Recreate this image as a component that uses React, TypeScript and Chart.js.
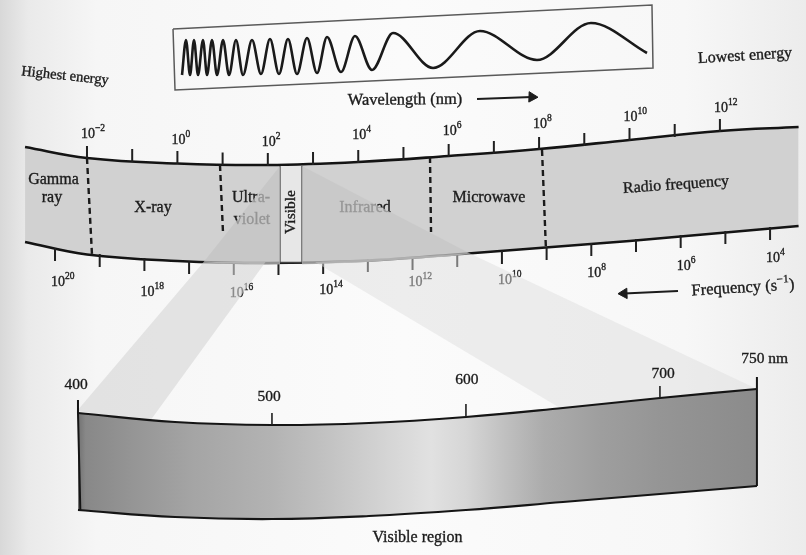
import React, { useEffect, useRef } from 'react';
import { Chart, registerables } from 'chart.js';

Chart.register(...registerables);

const FONT = '"Liberation Serif", "Times New Roman", serif';
const INK = '#1c1c1c';

// ---- scale ranges (x: log10 wavelength in nm, xf: log10 frequency in s^-1, xv: visible wavelength in nm, y: figure height) ----
const LOG_WL_MIN = -3.924;
const LOG_WL_MAX = 13.904;
const LOG_FREQ_MIN = 3.196;
const LOG_FREQ_MAX = 21.231;
const VIS_NM_MIN = 359.8;
const VIS_NM_MAX = 775.3;
const FIG_MIN = 0;
const FIG_MAX = 555;

// ---- main spectrum band ----
const BAND_X = [-3.37, -2, 0, 2, 4, 6, 8, 10, 12, 13.74];
const BAND_TOP = [147, 158, 163.5, 165, 162, 156, 149, 140, 131, 127];
const BAND_BOTTOM = [242, 254.5, 261, 263, 261, 255, 248, 241, 233, 226];

// wavelength ticks (top)
const WL_TICK_DECADES = [-2, -1, 0, 1, 2, 3, 4, 5, 6, 7, 8, 9, 10, 11, 12];
const WL_TICK_BASE_Y = [158, 161, 163, 164.5, 165, 164, 162, 159, 156, 153, 149, 145, 140, 136, 131];
const WL_LABEL_DECADES = [-2, 0, 2, 4, 6, 8, 10, 12];
const WL_LABEL_Y = [134, 140, 142, 135, 131, 124, 117, 108];

// frequency ticks (bottom)
const FREQ_TICK_DECADES = [20, 19, 18, 17, 16, 15, 14, 13, 12, 11, 10, 9, 8, 7, 6, 5, 4];
const FREQ_TICK_BASE_Y = [249, 255, 259, 262, 263, 263, 262, 260, 258, 255, 252, 248, 244, 240, 236, 232, 228];
const FREQ_LABEL_DECADES = [20, 18, 16, 14, 12, 10, 8, 6, 4];
const FREQ_LABEL_Y = [282, 292, 293, 290, 282, 280, 273, 266, 258];

// region boundaries (dashed)
const BOUNDARY_X1 = [-2.0, 0.942, 5.587, 8.065];
const BOUNDARY_Y1 = [158, 165, 157, 150];
const BOUNDARY_X2 = [-1.889, 1.008, 5.61, 8.15];
const BOUNDARY_Y2 = [255, 232, 232, 247];

// region names
const REGION_NAMES = ['Gamma', 'ray', 'X-ray', 'Ultra-', 'violet', 'Infrared', 'Microwave', 'Radio frequency'];
const REGION_X = [-2.741, -2.774, -0.54, 1.628, 1.65, 4.15, 6.892, 11.028];
const REGION_Y = [180, 198, 208, 198, 220, 208, 198, 185];
const REGION_ROT = [0, 0, 0, 0, 0, 0, 0, -4];

// visible slot in band
const SLOT_X = [2.269, 2.756];
const SLOT_TOP = 166;
const SLOT_BOTTOM = 262.5;
const SLOT_LABEL_X = 2.513;
const SLOT_LABEL_Y = 212;

// projection ("funnel") from the visible slot to the visible band
const FUNNEL_IN_LEFT_X = [2.269, 0.58, 1.0, 2.269];
const FUNNEL_IN_LEFT_Y = [166, 262, 263.5, 264.5];
const FUNNEL_IN_RIGHT_X = [2.756, 6.472, 6.0, 4.0, 2.756];
const FUNNEL_IN_RIGHT_Y = [166, 253.5, 256.5, 262.5, 264.5];
const FUNNEL_OUT_LEFT_X = [0.58, 1.95, -0.606, -2.221];
const FUNNEL_OUT_LEFT_Y = [262, 262, 421, 411];
const FUNNEL_OUT_RIGHT_X = [3.043, 6.472, 12.82, 8.463];
const FUNNEL_OUT_RIGHT_Y = [262, 253.5, 389, 408];

// ---- visible region band (nm) ----
const VIS_X = [400, 450, 500, 550, 600, 650, 700, 750];
const VIS_TOP = [413, 422, 425, 423, 417, 408, 398, 389];
const VIS_BOTTOM = [510, 517, 519, 516, 510, 502, 494, 486];
const VIS_SHADE_NM = [400, 404, 430, 460, 500, 530, 560, 582, 600, 620, 640, 670, 700, 750];
const VIS_SHADE = ['#727272', '#888888', '#969696', '#a5a5a5', '#b3b3b3', '#c3c3c3', '#d5d5d5', '#e1e1e1', '#d6d6d6', '#c0c0c0', '#acacac', '#9e9e9e', '#959595', '#8b8b8b'];
const VIS_TICK_NM = [500, 600, 700];
const VIS_TICK_TOP = [413, 404, 386];
const VIS_TICK_BOTTOM = [425, 417, 398];
const VIS_LABELS = ['400', '500', '600', '700', '750 nm'];
const VIS_LABEL_NM = [399, 498.5, 600.5, 701.6, 754];
const VIS_LABEL_Y = [385, 397, 380, 374, 359];

// ---- wave box at the top ----
const WAVE_BOX_X = [-0.097, 10.497, 10.52, -0.053, -0.097];
const WAVE_BOX_Y = [29, 5, 68, 90, 29];
const WAVE_X = [0.102, 0.19, 0.279, 0.367, 0.456, 0.566, 0.655, 0.765, 0.876, 1.009, 1.141, 1.296, 1.451, 1.65, 1.849, 2.048, 2.247, 2.446, 2.645, 2.867, 3.088, 3.309, 3.619, 3.928, 4.304, 4.769, 5.654, 6.693, 7.954, 9.148, 10.387];
const WAVE_Y = [75, 40, 75, 40, 75, 40, 75, 40, 75, 40, 75, 40, 75, 40, 74, 39, 74, 39, 74, 38, 73, 37, 72, 36, 70, 33, 68, 31, 60, 23, 53];

// arrows
const WL_ARROW_X = [6.627, 7.843];
const WL_ARROW_Y = [99, 97];
const FREQ_ARROW_X = [11.073, 9.878];
const FREQ_ARROW_Y = [291, 293.5];

// loose labels
const HIGHEST = { text: 'Highest energy', x: -2.486, y: 76, rot: 6, size: 14.5 };
const LOWEST = { text: 'Lowest energy', x: 12.555, y: 56, rot: -3.5, size: 16 };
const WAVELENGTH = { text: 'Wavelength (nm)', x: 5.034, y: 100, rot: -0.5, size: 16.5 };
const FREQUENCY = { x: 12.51, y: 288, rot: -3.5, size: 16.5 };
const VIS_REGION = { text: 'Visible region', x: 575, y: 538, size: 16 };

// ---------- helpers ----------
type Pt = { x: number; y: number | null };
const P = (xs: number[], ys: number[]): Pt[] => xs.map((x, i) => ({ x, y: ys[i] }));

function segments(x1: number[], y1: number[], x2: number[], y2: number[]): Pt[] {
  const out: Pt[] = [];
  x1.forEach((_, i) => {
    out.push({ x: x1[i], y: y1[i] }, { x: x2[i], y: y2[i] }, { x: x2[i], y: null });
  });
  return out;
}

type Run = { t: string; sup?: boolean };

function drawRuns(
  ctx: CanvasRenderingContext2D,
  runs: Run[],
  x: number,
  y: number,
  size: number,
  align: 'left' | 'center',
  rot = 0,
  color = INK
) {
  ctx.save();
  ctx.translate(x, y);
  ctx.rotate((rot * Math.PI) / 180);
  const supSize = size * 0.68;
  let total = 0;
  const widths = runs.map((r) => {
    ctx.font = `${r.sup ? supSize : size}px ${FONT}`;
    const w = ctx.measureText(r.t).width;
    total += w;
    return w;
  });
  let cx = align === 'center' ? -total / 2 : 0;
  ctx.textBaseline = 'middle';
  ctx.textAlign = 'left';
  ctx.fillStyle = color;
  ctx.strokeStyle = color;
  ctx.lineWidth = 0.35;
  runs.forEach((r, i) => {
    ctx.font = `${r.sup ? supSize : size}px ${FONT}`;
    const ty = r.sup ? -size * 0.36 : 0;
    ctx.fillText(r.t, cx, ty);
    ctx.strokeText(r.t, cx, ty);
    cx += widths[i];
  });
  ctx.restore();
}

const expText = (e: number) => (e < 0 ? '\u2212' + Math.abs(e) : String(e));

function polygon(chart: Chart, xs: number[], ys: number[], fill: string, scaleId = 'x') {
  const sx = chart.scales[scaleId];
  const sy = chart.scales.y;
  const c = chart.ctx;
  c.save();
  c.beginPath();
  xs.forEach((v, i) => {
    const px = sx.getPixelForValue(v);
    const py = sy.getPixelForValue(ys[i]);
    if (i === 0) c.moveTo(px, py);
    else c.lineTo(px, py);
  });
  c.closePath();
  c.fillStyle = fill;
  c.fill();
  c.restore();
}

function drawBandText(chart: Chart) {
  const c = chart.ctx;
  const sx = chart.scales.x;
  const sf = chart.scales.xf;
  const sy = chart.scales.y;
  REGION_NAMES.forEach((name, i) => {
    drawRuns(c, [{ t: name }], sx.getPixelForValue(REGION_X[i]), sy.getPixelForValue(REGION_Y[i]), 16, 'center', REGION_ROT[i]);
  });
  drawRuns(c, [{ t: 'Visible' }], sx.getPixelForValue(SLOT_LABEL_X), sy.getPixelForValue(SLOT_LABEL_Y), 15.5, 'center', -90);
  WL_LABEL_DECADES.forEach((d, i) => {
    drawRuns(c, [{ t: '10' }, { t: expText(d), sup: true }], sx.getPixelForValue(d) - 6, sy.getPixelForValue(WL_LABEL_Y[i]), 14, 'left');
  });
  FREQ_LABEL_DECADES.forEach((d, i) => {
    drawRuns(c, [{ t: '10' }, { t: expText(d), sup: true }], sf.getPixelForValue(d) - 4, sy.getPixelForValue(FREQ_LABEL_Y[i]), 14, 'left');
  });
}

function drawFunnel(chart: Chart) {
  polygon(chart, FUNNEL_OUT_LEFT_X, FUNNEL_OUT_LEFT_Y, 'rgba(214,214,214,0.6)');
  polygon(chart, FUNNEL_OUT_RIGHT_X, FUNNEL_OUT_RIGHT_Y, 'rgba(222,222,222,0.48)');
  polygon(chart, FUNNEL_IN_LEFT_X, FUNNEL_IN_LEFT_Y, 'rgba(196,196,196,0.72)');
  polygon(chart, FUNNEL_IN_RIGHT_X, FUNNEL_IN_RIGHT_Y, 'rgba(198,198,198,0.72)');
}

function drawTopText(chart: Chart) {
  const c = chart.ctx;
  const sx = chart.scales.x;
  const sv = chart.scales.xv;
  const sy = chart.scales.y;
  [HIGHEST, LOWEST, WAVELENGTH].forEach((l) => {
    drawRuns(c, [{ t: l.text }], sx.getPixelForValue(l.x), sy.getPixelForValue(l.y), l.size, 'center', l.rot);
  });
  drawRuns(
    c,
    [{ t: 'Frequency (s' }, { t: '\u22121', sup: true }, { t: ')' }],
    sx.getPixelForValue(FREQUENCY.x),
    sy.getPixelForValue(FREQUENCY.y),
    FREQUENCY.size,
    'center',
    FREQUENCY.rot
  );
  VIS_LABELS.forEach((t, i) => {
    drawRuns(c, [{ t }], sv.getPixelForValue(VIS_LABEL_NM[i]), sy.getPixelForValue(VIS_LABEL_Y[i]), 15.5, 'center');
  });
  drawRuns(c, [{ t: VIS_REGION.text }], sv.getPixelForValue(VIS_REGION.x), sy.getPixelForValue(VIS_REGION.y), VIS_REGION.size, 'center');
}

const figurePlugin = {
  id: 'figure',
  beforeDraw(chart: Chart) {
    const c = chart.ctx;
    const { width, height } = chart;
    c.save();
    const g = c.createLinearGradient(0, 0, width, 0);
    g.addColorStop(0, '#d8d8d8');
    g.addColorStop(0.035, '#eaeaea');
    g.addColorStop(0.12, '#f6f6f6');
    g.addColorStop(0.5, '#fbfbfb');
    g.addColorStop(0.85, '#f7f7f7');
    g.addColorStop(1, '#ececec');
    c.fillStyle = g;
    c.fillRect(0, 0, width, height);
    c.restore();
  },
  afterDatasetDraw(chart: Chart, args: any) {
    const ds: any = chart.data.datasets[args.index];
    if (ds.label === 'anchor:bandText') drawBandText(chart);
    if (ds.label === 'anchor:funnel') drawFunnel(chart);
  },
  afterDatasetsDraw(chart: Chart) {
    drawTopText(chart);
  },
};

function visGradient(context: any) {
  const chart = context.chart;
  if (!chart.chartArea) return '#aaaaaa';
  const sv = chart.scales.xv;
  const x0 = sv.getPixelForValue(400);
  const x1 = sv.getPixelForValue(750);
  const g = chart.ctx.createLinearGradient(x0, 0, x1, 0);
  VIS_SHADE_NM.forEach((nm, i) => g.addColorStop((nm - 400) / 350, VIS_SHADE[i]));
  return g;
}

function base(label: string, data: Pt[], order: number, extra: any = {}) {
  return {
    type: 'line' as const,
    label,
    data,
    order,
    xAxisID: 'x',
    yAxisID: 'y',
    borderColor: INK,
    borderWidth: 2,
    pointRadius: 0,
    pointHoverRadius: 0,
    fill: false,
    tension: 0,
    spanGaps: false,
    ...extra,
  };
}

function buildConfig(): any {
  const wlTicks = segments(
    WL_TICK_DECADES,
    WL_TICK_BASE_Y.map((v) => v + 1),
    WL_TICK_DECADES,
    WL_TICK_BASE_Y.map((v) => v - 12)
  );
  const freqTicks = segments(
    FREQ_TICK_DECADES,
    FREQ_TICK_BASE_Y.map((v) => v - 1),
    FREQ_TICK_DECADES,
    FREQ_TICK_BASE_Y.map((v) => v + 12)
  );
  const visTicks = segments(VIS_TICK_NM, VIS_TICK_TOP, VIS_TICK_NM, VIS_TICK_BOTTOM);
  const visEdges: Pt[] = [
    { x: 400, y: 400 },
    { x: 400, y: VIS_TOP[0] },
    { x: 401.2, y: VIS_BOTTOM[0] },
    { x: 401.2, y: null },
    { x: 750, y: 377 },
    { x: 750, y: VIS_BOTTOM[VIS_BOTTOM.length - 1] },
  ];
  const slotFrame: Pt[] = [
    { x: SLOT_X[0], y: SLOT_TOP },
    { x: SLOT_X[0], y: SLOT_BOTTOM },
    { x: SLOT_X[1], y: SLOT_BOTTOM },
    { x: SLOT_X[1], y: SLOT_TOP },
  ];

  const datasets = [
    base('bandTop', P(BAND_X, BAND_TOP), 100, { fill: '+1', backgroundColor: '#d1d1d1', borderColor: '#141414', borderWidth: 2.6, tension: 0.4 }),
    base('bandBottom', P(BAND_X, BAND_BOTTOM), 99, { borderColor: '#141414', borderWidth: 2.6, tension: 0.4 }),
    base('slotTop', P(SLOT_X, [SLOT_TOP, SLOT_TOP]), 98, { fill: '+1', backgroundColor: '#e7e7e7', borderWidth: 0 }),
    base('slotBottom', P(SLOT_X, [SLOT_BOTTOM, SLOT_BOTTOM]), 97, { borderWidth: 0 }),
    base('slotFrame', slotFrame, 96, { borderColor: '#444444', borderWidth: 1.3 }),
    base('wlTicks', wlTicks, 95, { borderWidth: 2, borderColor: '#202020' }),
    base('freqTicks', freqTicks, 94, { xAxisID: 'xf', borderWidth: 2, borderColor: '#202020' }),
    base('boundaries', segments(BOUNDARY_X1, BOUNDARY_Y1, BOUNDARY_X2, BOUNDARY_Y2), 93, { borderWidth: 2.4, borderDash: [6, 4], borderColor: '#1a1a1a' }),
    base('anchor:bandText', [], 90),
    base('anchor:funnel', [], 80),
    base('visTop', P(VIS_X, VIS_TOP), 70, { xAxisID: 'xv', fill: '+1', backgroundColor: visGradient, borderColor: '#151515', borderWidth: 2.2, tension: 0.4 }),
    base('visBottom', P(VIS_X, VIS_BOTTOM), 69, { xAxisID: 'xv', borderColor: '#151515', borderWidth: 2.2, tension: 0.4 }),
    base('visEdges', visEdges, 68, { xAxisID: 'xv', borderColor: '#151515', borderWidth: 2 }),
    base('visTicks', visTicks, 67, { xAxisID: 'xv', borderColor: '#202020', borderWidth: 1.6 }),
    base('waveBox', P(WAVE_BOX_X, WAVE_BOX_Y), 60, { borderColor: '#5a5a5a', borderWidth: 1.5 }),
    base('wave', P(WAVE_X, WAVE_Y), 59, { borderColor: '#1a1a1a', borderWidth: 2.6, cubicInterpolationMode: 'monotone' }),
    base('wlArrow', P(WL_ARROW_X, WL_ARROW_Y), 58, {
      borderWidth: 2,
      pointRadius: [0, 6],
      pointStyle: 'triangle',
      pointRotation: [0, 92],
      pointBackgroundColor: INK,
      pointBorderColor: INK,
      pointBorderWidth: 1,
    }),
    base('freqArrow', P(FREQ_ARROW_X, FREQ_ARROW_Y), 57, {
      borderWidth: 2,
      pointRadius: [0, 6],
      pointStyle: 'triangle',
      pointRotation: [0, 268],
      pointBackgroundColor: INK,
      pointBorderColor: INK,
      pointBorderWidth: 1,
    }),
  ];

  return {
    type: 'line',
    data: { datasets },
    options: {
      animation: false,
      responsive: false,
      maintainAspectRatio: false,
      events: [],
      layout: { padding: 0, autoPadding: false },
      plugins: { legend: { display: false }, tooltip: { enabled: false }, title: { display: false } },
      scales: {
        x: { type: 'linear', display: false, min: LOG_WL_MIN, max: LOG_WL_MAX },
        xf: { type: 'linear', axis: 'x', display: false, min: LOG_FREQ_MIN, max: LOG_FREQ_MAX, reverse: true },
        xv: { type: 'linear', axis: 'x', display: false, min: VIS_NM_MIN, max: VIS_NM_MAX },
        y: { type: 'linear', display: false, min: FIG_MIN, max: FIG_MAX, reverse: true },
      },
    },
    plugins: [figurePlugin],
  };
}

export default function App() {
  const ref = useRef<HTMLCanvasElement | null>(null);
  useEffect(() => {
    if (!ref.current) return;
    const chart = new Chart(ref.current, buildConfig());
    return () => chart.destroy();
  }, []);
  return (
    <div style={{ position: 'absolute', left: 0, top: 0, width: 806, height: 555 }}>
      <canvas ref={ref} width={806} height={555} style={{ display: 'block', width: 806, height: 555 }} />
    </div>
  );
}
